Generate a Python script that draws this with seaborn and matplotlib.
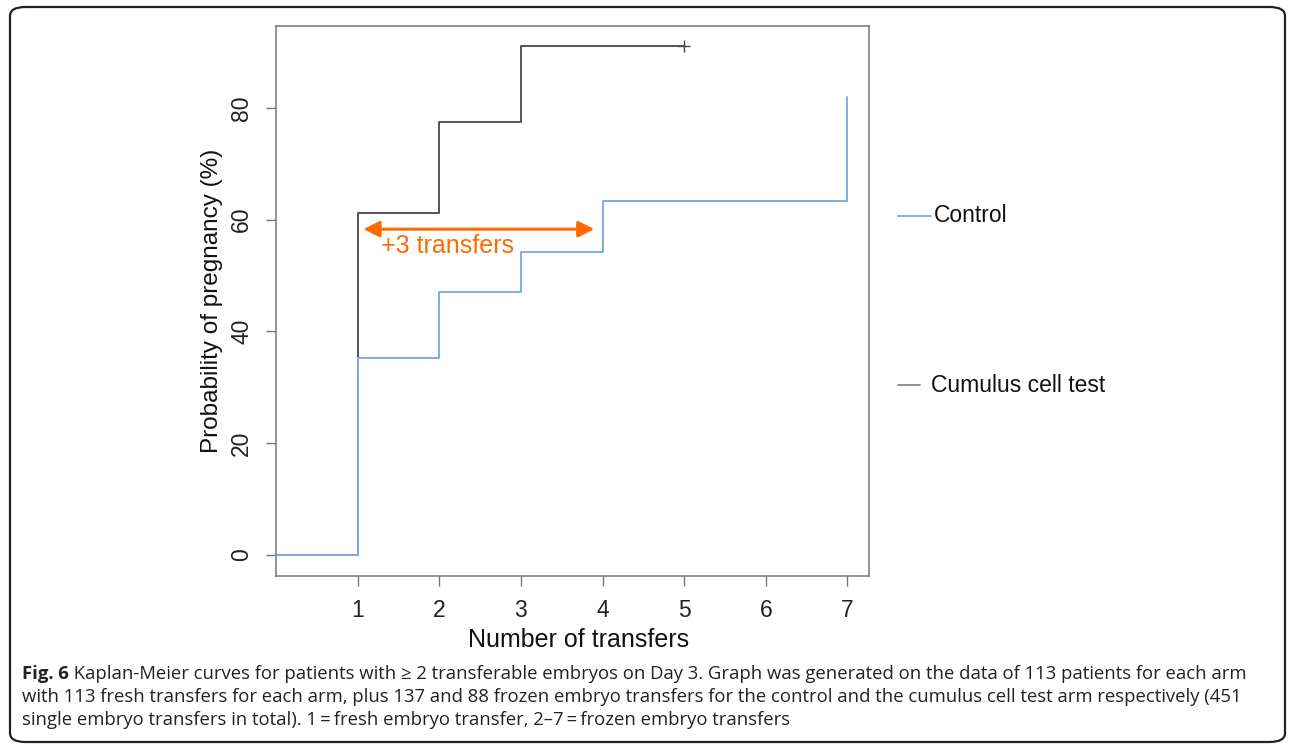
import matplotlib
matplotlib.use("Agg")
import matplotlib.pyplot as plt
import numpy as np
import pandas as pd
import seaborn as sns
from matplotlib.lines import Line2D
from matplotlib.patches import FancyBboxPatch

# Kaplan-Meier step values (percent)
transfers_control = [0, 1, 2, 3, 4, 7]
prob_control = [0, 35.3, 47.1, 54.2, 63.4, 82.0]
transfers_cumulus = [0, 1, 2, 3, 5]
prob_cumulus = [0, 61.2, 77.5, 91.1, 91.1]
censor_x = [5]
censor_y = [91.1]

arms = ["Cumulus cell test", "Control"]
arm_colors = {"Control": "#7aaee3", "Cumulus cell test": "#555555"}
x_ticks = [1, 2, 3, 4, 5, 6, 7]
y_ticks = [0, 20, 40, 60, 80]

caption_bold = "Fig. 6"
caption_lines = [
    " Kaplan-Meier curves for patients with \u2265 2 transferable embryos on Day 3. Graph was generated on the data of 113 patients for each arm",
    "with 113 fresh transfers for each arm, plus 137 and 88 frozen embryo transfers for the control and the cumulus cell test arm respectively (451",
    "single embryo transfers in total). 1\u2009=\u2009fresh embryo transfer, 2\u20137\u2009=\u2009frozen embryo transfers",
]

df = pd.DataFrame({
    "transfers": transfers_cumulus + transfers_control,
    "prob": prob_cumulus + prob_control,
    "arm": ["Cumulus cell test"] * len(transfers_cumulus) + ["Control"] * len(transfers_control),
})

sns.set_style("white")
plt.rcParams["font.family"] = ["Liberation Sans", "DejaVu Sans"]

fig = plt.figure(figsize=(12.9, 7.47), dpi=100)
ax = fig.add_axes([0.214, 0.229, 0.46, 0.7365])

# gray arm first so the blue one sits on top where they overlap
sns.lineplot(data=df, x="transfers", y="prob", hue="arm", hue_order=arms,
             palette=arm_colors, drawstyle="steps-post", estimator=None,
             sort=False, legend=False, linewidth=1.4, ax=ax)
sns.scatterplot(x=censor_x, y=censor_y, marker="+", s=70, color="#444444",
                linewidth=1.0, ax=ax)

ax.set_xlim(0, 7.27)
ax.set_ylim(-3.76, 94.7)
ax.set_xticks(x_ticks)
ax.set_yticks(y_ticks)
ax.set_yticklabels([str(v) for v in y_ticks], rotation=90, va="center")
ax.tick_params(axis="both", direction="out", length=7.5, width=1, color="#777777",
               labelsize=16.5, labelcolor="#222222", pad=9)
ax.tick_params(left=True, bottom=True)
for sp in ax.spines.values():
    sp.set_color("#777777")
    sp.set_linewidth(1.1)

ax.set_xlabel("Number of transfers", fontsize=18, color="#111111")
ax.set_ylabel("Probability of pregnancy (%)", fontsize=17.5, color="#111111")
ax.xaxis.set_label_coords(0.51, -0.095)
ax.yaxis.set_label_coords(-0.089, 0.5)

# "+3 transfers" annotation
ax.annotate("", xy=(1.07, 58.3), xytext=(3.9, 58.3),
            arrowprops=dict(arrowstyle="<|-|>", color="#ff6a00", lw=2.2,
                            mutation_scale=24, shrinkA=0, shrinkB=0))
ax.text(2.1, 55.3, "+3 transfers", color="#ff6a00", fontsize=18,
        ha="center", va="center")

# legend placed outside at the right, as in the original
fig.add_artist(Line2D([898 / 1290, 931 / 1290], [1 - 216 / 747] * 2,
                      color=arm_colors["Control"], lw=1.3))
fig.text(934 / 1290, 1 - 216 / 747, "Control", fontsize=16.5, va="center",
         color="#111111")
fig.add_artist(Line2D([898 / 1290, 920 / 1290], [1 - 385 / 747] * 2,
                      color="#888888", lw=1.3))
fig.text(931 / 1290, 1 - 385 / 747, "Cumulus cell test", fontsize=16.5,
         va="center", color="#111111")

# caption
cap_font = ["Open Sans", "DejaVu Sans"]
cap_size = 13.3
t0 = fig.text(22 / 1290, 1 - 679 / 747, caption_bold, fontsize=cap_size,
              fontweight="bold", family=cap_font, color="#222222", va="baseline")
ax.annotate(caption_lines[0], xy=(1, 0), xycoords=t0, va="bottom", ha="left",
            fontsize=cap_size, family=cap_font, color="#222222",
            annotation_clip=False)
fig.text(22 / 1290, 1 - 702 / 747, caption_lines[1], fontsize=cap_size,
         family=cap_font, color="#222222", va="baseline")
fig.text(22 / 1290, 1 - 725 / 747, caption_lines[2], fontsize=cap_size,
         family=cap_font, color="#222222", va="baseline")

# rounded frame around the whole figure
frame = FancyBboxPatch((10 / 1290, 5 / 747), 1275 / 1290, 735 / 747,
                       boxstyle="round,pad=0,rounding_size=0.012",
                       transform=fig.transFigure, fill=False,
                       edgecolor="#222222", linewidth=1.6)
fig.add_artist(frame)

fig.savefig("out.png", dpi=100)
